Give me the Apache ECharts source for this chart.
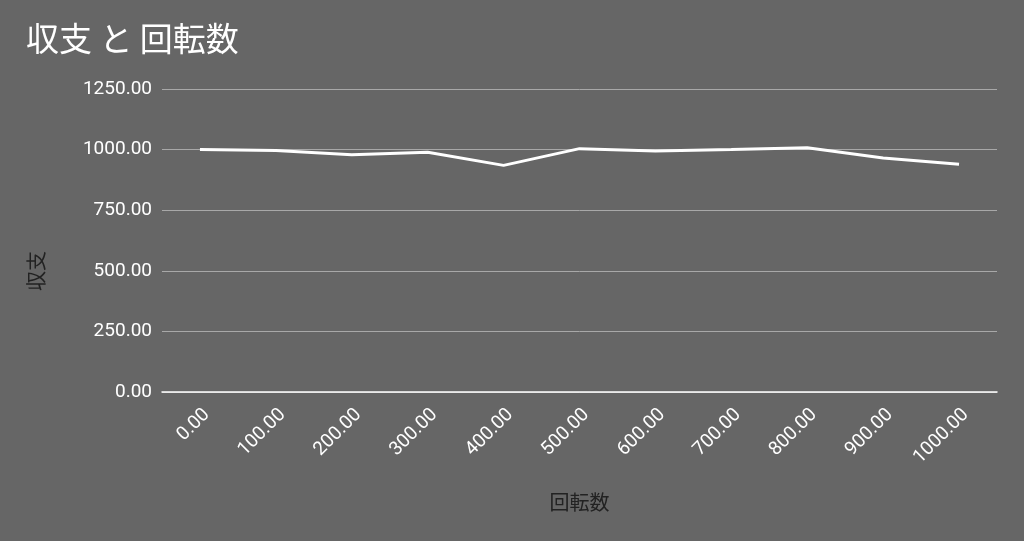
<!DOCTYPE html>
<html><head><meta charset="utf-8">
<script src="https://cdn.jsdelivr.net/npm/echarts@6/dist/echarts.min.js"></script>
<style>html,body{margin:0;padding:0;background:#666666}#c{width:1024px;height:541px}</style>
</head><body><div id="c"></div>
<script>
const categories = ['0.00','100.00','200.00','300.00','400.00','500.00','600.00','700.00','800.00','900.00','1000.00'];
const values = [1000, 996, 979, 989, 935, 1004, 994, 1000, 1008, 965, 940];
const yTicks = [0, 250, 500, 750, 1000, 1250];
const chart = echarts.init(document.getElementById('c'));
const font = 'Roboto, "Noto Sans CJK JP", sans-serif';
const cjk = '"Noto Sans CJK JP", sans-serif';
chart.setOption({
  backgroundColor: '#666666',
  animation: false,
  title: { text: '収支 と 回転数', left: 26, top: 22, padding: 0, textStyle: { color: '#ffffff', fontSize: 33, fontWeight: 'normal', fontFamily: cjk } },
  grid: { left: 162, right: 27, top: 89, bottom: 149, containLabel: false },
  graphic: [{
    type: 'text', x: 36, y: 271, rotation: Math.PI / 2,
    style: { text: '収支', align: 'center', verticalAlign: 'middle', fill: '#222222', fontSize: 20, fontFamily: cjk }
  }],
  xAxis: {
    type: 'category', data: categories, boundaryGap: true,
    name: '回転数', nameLocation: 'middle', nameGap: 100,
    nameTextStyle: { color: '#222222', fontSize: 20, fontFamily: cjk },
    axisLine: { lineStyle: { color: '#ffffff', width: 1.5 } },
    axisTick: { show: false },
    axisLabel: { color: '#ffffff', fontSize: 19, rotate: 45, margin: 13, verticalAlign: 'top', fontFamily: font }
  },
  yAxis: {
    type: 'value', min: yTicks[0], max: yTicks[yTicks.length-1], interval: 250,
    axisLine: { show: false }, axisTick: { show: false },
    splitLine: { lineStyle: { color: '#a8a8a8', width: 1 } },
    axisLabel: { color: '#ffffff', fontSize: 19, margin: 10, fontFamily: font, formatter: v => v.toFixed(2) }
  },
  series: [{ type: 'line', data: values, symbol: 'none', lineStyle: { color: '#ffffff', width: 3 } }]
});
</script></body></html>
